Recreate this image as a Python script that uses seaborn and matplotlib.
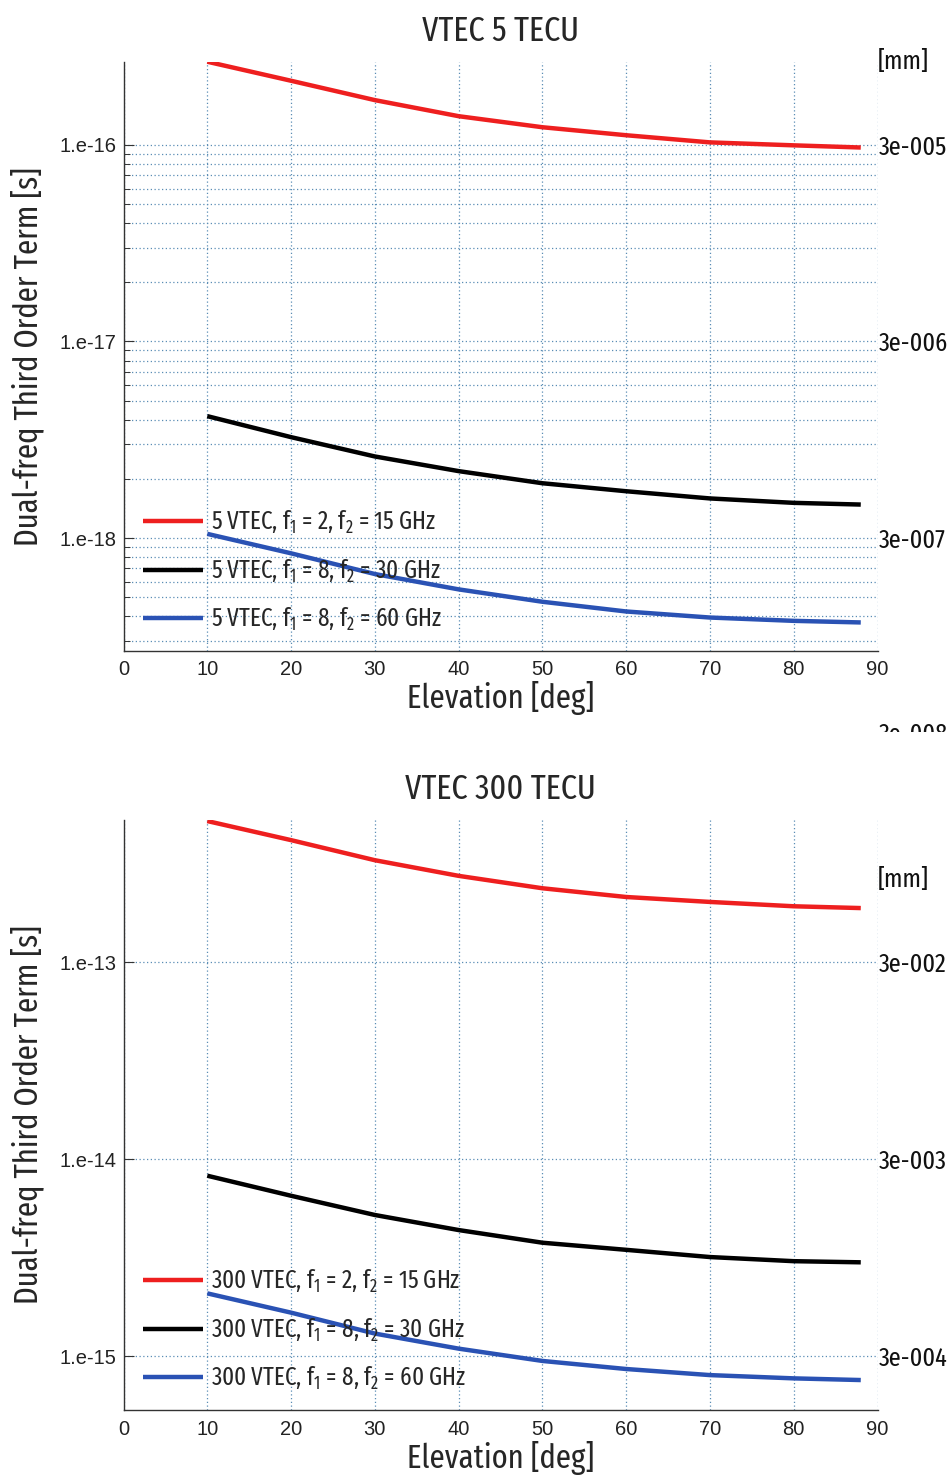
import os
import numpy as np
import pandas as pd
import matplotlib
matplotlib.use("Agg")
import matplotlib.pyplot as plt
import seaborn as sns
from matplotlib import font_manager
from matplotlib.font_manager import FontProperties
from matplotlib.ticker import FixedLocator, NullLocator, NullFormatter
from matplotlib.transforms import Bbox, TransformedBbox, blended_transform_factory
from matplotlib.lines import Line2D

# ---------------- data ----------------
elevation = [10, 20, 30, 40, 50, 60, 70, 80, 88]

top_title = "VTEC 5 TECU"
top_labels = [
    "5 VTEC, f$_\\mathregular{1}$ = 2, f$_\\mathregular{2}$ = 15 GHz",
    "5 VTEC, f$_\\mathregular{1}$ = 8, f$_\\mathregular{2}$ = 30 GHz",
    "5 VTEC, f$_\\mathregular{1}$ = 8, f$_\\mathregular{2}$ = 60 GHz",
]
top_red = [2.65e-16, 2.12e-16, 1.69e-16, 1.40e-16, 1.23e-16, 1.12e-16, 1.03e-16, 0.995e-16, 0.97e-16]
top_black = [4.17e-18, 3.26e-18, 2.60e-18, 2.19e-18, 1.90e-18, 1.73e-18, 1.59e-18, 1.51e-18, 1.48e-18]
top_blue = [1.05e-18, 0.836e-18, 0.656e-18, 0.548e-18, 0.474e-18, 0.423e-18, 0.394e-18, 0.379e-18, 0.372e-18]
top_ylim = (2.67e-19, 2.65e-16)
top_major = [1e-18, 1e-17, 1e-16]
top_left_labels = ["1.e-18", "1.e-17", "1.e-16"]
top_right_labels = ["3e-007", "3e-006", "3e-005"]
top_clipped_value = 1e-19
top_clipped_label = "3e-008"

bottom_title = "VTEC 300 TECU"
bottom_labels = [
    "300 VTEC, f$_\\mathregular{1}$ = 2, f$_\\mathregular{2}$ = 15 GHz",
    "300 VTEC, f$_\\mathregular{1}$ = 8, f$_\\mathregular{2}$ = 30 GHz",
    "300 VTEC, f$_\\mathregular{1}$ = 8, f$_\\mathregular{2}$ = 60 GHz",
]
bottom_red = [5.20e-13, 4.16e-13, 3.29e-13, 2.74e-13, 2.37e-13, 2.14e-13, 2.02e-13, 1.92e-13, 1.88e-13]
bottom_black = [8.23e-15, 6.51e-15, 5.20e-15, 4.36e-15, 3.76e-15, 3.46e-15, 3.18e-15, 3.03e-15, 2.99e-15]
bottom_blue = [2.08e-15, 1.66e-15, 1.30e-15, 1.09e-15, 0.944e-15, 0.859e-15, 0.800e-15, 0.770e-15, 0.755e-15]
bottom_ylim = (5.32e-16, 5.26e-13)
bottom_major = [1e-15, 1e-14, 1e-13]
bottom_left_labels = ["1.e-15", "1.e-14", "1.e-13"]
bottom_right_labels = ["3e-004", "3e-003", "3e-002"]

x_ticks = [0, 10, 20, 30, 40, 50, 60, 70, 80, 90]
x_label = "Elevation [deg]"
y_label = "Dual-freq Third Order Term [s]"
unit_label = "[mm]"
line_colors = ["#ee1f1f", "#000000", "#2a52b4"]

# ---------------- fonts ----------------
def find_condensed():
    cands = []
    for f in font_manager.fontManager.ttflist:
        fn = os.path.basename(f.fname).lower()
        full = fn + " " + f.name.lower()
        if any(b in fn for b in ["bold", "light", "thin", "black", "medium",
                                  "heavy", "italic", "oblique", "mono", "serif", "["]):
            continue
        if f.style != "normal":
            continue
        score = 0
        if "extracondensed" in full or "extra condensed" in full:
            score = 4
        elif "ultracondensed" in full:
            score = 3
        elif "semicondensed" in full or "semi condensed" in full:
            score = 1
        elif "condensed" in full or "narrow" in full:
            score = 2
        if score:
            cands.append((score, f.fname))
    if cands:
        cands.sort(key=lambda t: -t[0])
        return cands[0][1]
    return None

COND = find_condensed()

def cfont(size):
    if COND:
        return FontProperties(fname=COND, size=size)
    return FontProperties(family="DejaVu Sans", stretch="condensed", size=size)

def tfont(size):
    return FontProperties(family=["Liberation Sans", "DejaVu Sans"], size=size)

sns.set_theme(style="white")
plt.rcParams["font.family"] = ["Liberation Sans", "DejaVu Sans"]

fig = plt.figure(figsize=(9.53, 14.8), dpi=100)

grid_kw = dict(color="#5a8db5", linestyle=(0, (1, 2)), linewidth=0.9)


def draw_panel(rect, title, labels, red, black, blue, ylim, major, left_labels,
               right_labels, minor_grid, mm_y):
    ax = fig.add_axes(rect)
    n = len(elevation)
    df = pd.DataFrame({
        "Elevation": elevation * 3,
        "Value": red + black + blue,
        "Series": [labels[0]] * n + [labels[1]] * n + [labels[2]] * n,
    })
    sns.lineplot(data=df, x="Elevation", y="Value", hue="Series", hue_order=labels,
                 palette=dict(zip(labels, line_colors)), lw=3.2, ax=ax, legend=False,
                 sort=False, estimator=None, solid_capstyle="butt")
    ax.set_yscale("log")
    ax.set_ylim(*ylim)
    ax.set_xlim(0, 90)
    ax.set_xticks(x_ticks)
    ax.set_xticklabels([str(t) for t in x_ticks], fontproperties=tfont(14.5))
    ax.set_yticks(major)
    ax.set_yticklabels(left_labels, fontproperties=tfont(14.5))
    if minor_grid:
        lo = np.floor(np.log10(ylim[0]))
        mins = [m * 10 ** e for e in np.arange(lo, np.log10(major[-1])) for m in range(2, 10)]
        mins = [v for v in mins if ylim[0] <= v < major[-1]]
        ax.yaxis.set_minor_locator(FixedLocator(mins))
        ax.grid(True, which="minor", axis="y", **grid_kw)
    else:
        ax.yaxis.set_minor_locator(NullLocator())
    ax.yaxis.set_minor_formatter(NullFormatter())
    ax.grid(True, which="major", axis="both", **grid_kw)
    ax.set_axisbelow(True)
    for s in ["top", "right"]:
        ax.spines[s].set_visible(False)
    for s in ["left", "bottom"]:
        ax.spines[s].set_color("#333333")
        ax.spines[s].set_linewidth(1.0)
    ax.tick_params(axis="both", which="major", direction="in", length=7, width=0.8,
                   colors="#333333", labelcolor="#222222")
    ax.tick_params(axis="y", which="minor", direction="in", length=4, width=0.7,
                   colors="#333333")
    ax.tick_params(axis="x", pad=7)
    ax.tick_params(axis="y", pad=5)

    ax.set_xlabel(x_label, fontproperties=cfont(24))
    ax.xaxis.set_label_coords(0.5, -0.052)
    ax.set_ylabel(y_label, fontproperties=cfont(24))
    ax.yaxis.set_label_coords(-0.105, 0.5)
    ax.set_title(title, fontproperties=cfont(25), pad=15)

    handles = [Line2D([], [], color=c, lw=3.2, solid_capstyle="butt") for c in line_colors]
    ax.legend(handles, labels, loc="lower left", bbox_to_anchor=(0.026, 0.03),
              frameon=False, prop=cfont(18), handlelength=2.4, handletextpad=0.3,
              labelspacing=0.85, borderpad=0, borderaxespad=0)

    ax2 = ax.twinx()
    ax2.set_yscale("log")
    ax2.set_ylim(*ylim)
    ax2.set_yticks(major)
    ax2.set_yticklabels(right_labels, fontproperties=cfont(19))
    ax2.yaxis.set_minor_locator(NullLocator())
    ax2.tick_params(axis="y", length=0, pad=1, labelcolor="#111111")
    ax2.grid(False)
    for s in ax2.spines.values():
        s.set_visible(False)
    ax.text(1.0, mm_y, unit_label, transform=ax.transAxes, ha="left", va="center",
            fontproperties=cfont(19), color="#111111")
    return ax


ax_top = draw_panel([0.1296, 0.5603, 0.7912, 0.398], top_title, top_labels,
                    top_red, top_black, top_blue, top_ylim, top_major,
                    top_left_labels, top_right_labels, True, 1.0)
ax_bot = draw_panel([0.1296, 0.0473, 0.7912, 0.3986], bottom_title, bottom_labels,
                    bottom_red, bottom_black, bottom_blue, bottom_ylim, bottom_major,
                    bottom_left_labels, bottom_right_labels, False, 0.899)

# partially clipped right-axis label below the top panel
tr = blended_transform_factory(ax_top.transAxes, ax_top.transData)
t = ax_top.text(1.0 + 1 / 754, top_clipped_value, top_clipped_label, transform=tr,
                ha="left", va="center", fontproperties=cfont(19), color="#111111")
t.set_clip_box(TransformedBbox(Bbox([[0, 1 - 732 / 1480], [1, 1]]), fig.transFigure))
t.set_clip_on(True)

fig.savefig("out.png", dpi=100)
